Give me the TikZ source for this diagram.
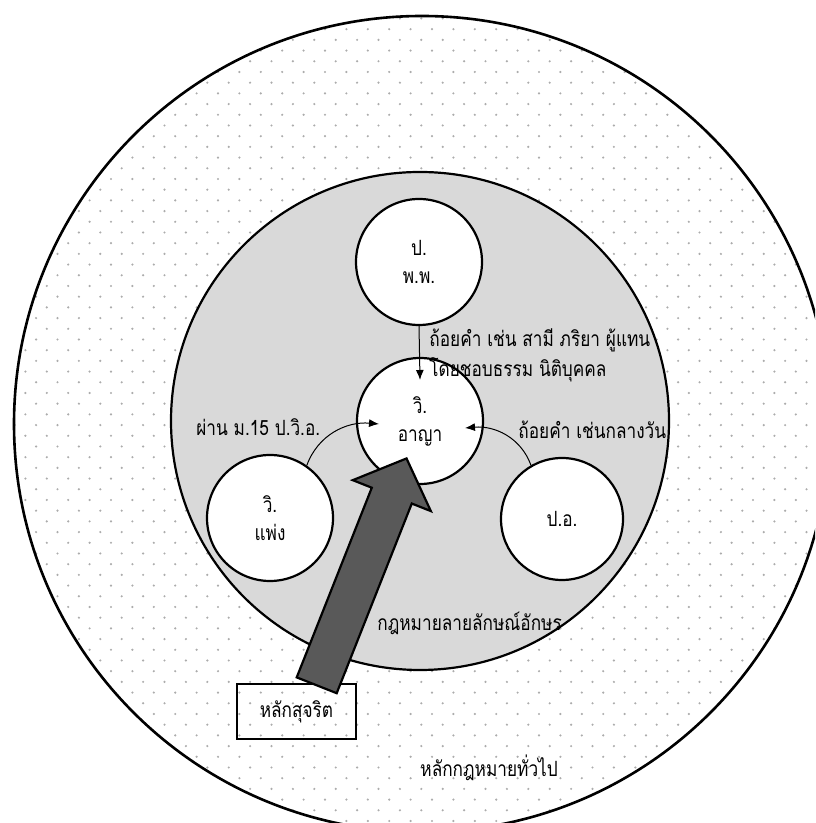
\documentclass[tikz,border=0pt]{standalone}
\usepackage{fontspec}
\newfontfamily\thaifont[Script=Thai, FakeStretch=0.82]{Loma}
\usetikzlibrary{arrows.meta}
\definecolor{innergray}{RGB}{217,217,217}
\definecolor{arrowgray}{RGB}{89,89,89}
\begin{document}
\begin{tikzpicture}
[
    x=0.5pt, y=0.5pt,
    font=\thaifont\fontsize{10.5}{14}\selectfont,
    dotc/.style={fill=gray!65},
    law/.style={circle, draw, line width=1.1pt, fill=white, minimum size=63pt, inner sep=0pt, align=center},
    thinarrow/.style={-{Latex[length=5pt,width=4pt]}, line width=0.5pt},
    bigarrow/.style={draw, line width=1.1pt, fill=arrowgray},
    note/.style={anchor=west, inner sep=0pt},
]
\useasboundingbox (0,0) rectangle (815,823);
\clip (0,0) rectangle (815,823);
\begin{scope}
\clip (422,399) circle [radius=408];
\foreach \i in {0,...,39}
    \foreach \j in {0,...,39}
    {
        \fill[dotc] ({\j*21.4+4}, {\i*21.4+2}) circle [radius=1.2];
        \fill[dotc] ({\j*21.4+14.7}, {\i*21.4+12.7}) circle [radius=1.2];
    }
\end{scope}
\draw[line width=1.3pt] (422,399) circle [radius=408];
\draw[line width=1.1pt, fill=innergray] (420,402) circle [radius=249];

\node[law] (pp) at (419,561) {ป.\\พ.พ.};
\node[law] (va) at (420,402) {วิ.\\อาญา};
\node[law] (vp) at (270,305) {วิ.\\แพ่ง};
\node[law, minimum size=61pt] (po) at (562,304) {ป.อ.};

\coordinate (vatop) at (420,443);
\coordinate (valeft) at (379,399);
\coordinate (varight) at (465,395);
\draw[thinarrow] (pp.south) -- (vatop);
\draw[thinarrow] (vp.55) to[out=70, in=175] (valeft);
\draw[thinarrow] (po.120) to[out=110, in=5] (varight);

\node[note] (t1) at (429,483) {ถ้อยคำ เช่น สามี ภริยา ผู้แทน};
\node[note] (t2) at (429,453) {โดยชอบธรรม นิติบุคคล};
\node[note] (t3) at (196,396) {ผ่าน ม.15 ป.วิ.อ.};
\node[note] (t4) at (518,393) {ถ้อยคำ เช่นกลางวัน};
\node[note] (t5) at (377,200) {กฎหมายลายลักษณ์อักษร};
\node[note] (t7) at (420,55) {หลักกฎหมายทั่วไป};

\node[draw, line width=0.8pt, minimum width=59.5pt, minimum height=27.5pt] (box) at (296.5,111.5) {หลักสุจริต};

\begin{scope}[shift={(316.7,137.7)}, rotate=68.4]
\draw[bigarrow] (0,-21.5) -- (204,-21.5) -- (204,-42) -- (244,0) -- (204,42) -- (204,21.5) -- (0,21.5) -- cycle;
\end{scope}
\end{tikzpicture}
\end{document}
